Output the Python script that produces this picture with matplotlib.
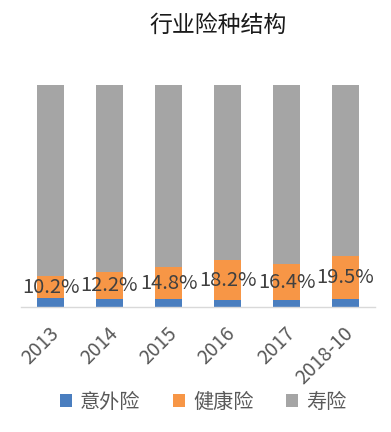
import matplotlib
matplotlib.use("Agg")
import matplotlib.pyplot as plt
import matplotlib.transforms as mtransforms
import numpy as np

plt.rcParams['font.family'] = ['Noto Sans CJK SC', 'DejaVu Sans']

categories = ['2013', '2014', '2015', '2016', '2017', '2018-10']
accident = [3.9, 3.6, 3.4, 3.0, 3.0, 3.4]          # 意外险 (%)
health = [10.2, 12.2, 14.8, 18.2, 16.4, 19.5]      # 健康险 (%)
life = [100 - a - h for a, h in zip(accident, health)]  # 寿险 (%)
series_names = ['意外险', '健康险', '寿险']
colors = ['#4A7EBF', '#F79646', '#A5A5A5']

W, H = 391, 432
fig = plt.figure(figsize=(W / 100, H / 100), dpi=100)
ax = fig.add_axes([21 / W, (H - 307) / H, 354 / W, 222 / H])

x = np.arange(len(categories))
bw = 0.46
b1 = ax.bar(x, accident, bw, color=colors[0], label=series_names[0])
b2 = ax.bar(x, health, bw, bottom=accident, color=colors[1], label=series_names[1])
bottom3 = [a + h for a, h in zip(accident, health)]
b3 = ax.bar(x, life, bw, bottom=bottom3, color=colors[2], label=series_names[2])

for xi, a, h in zip(x, accident, health):
    ax.text(xi, a + h / 2, f'{h:.1f}%', ha='center', va='center',
            fontsize=14.5, color='#404040')

ax.set_xlim(-0.5, len(categories) - 0.5)
ax.set_ylim(0, 100)
ax.set_yticks([])
ax.set_xticks(x)
ax.set_xticklabels(categories, rotation=45, ha='right', va='center',
                   rotation_mode='anchor', fontsize=14, color='#595959')
ax.tick_params(axis='x', length=0, pad=17)
offset = mtransforms.ScaledTranslation(5 / 100, 0, fig.dpi_scale_trans)
for lbl in ax.get_xticklabels():
    lbl.set_transform(lbl.get_transform() + offset)
for s in ['left', 'right', 'top']:
    ax.spines[s].set_visible(False)
ax.spines['bottom'].set_color('#D9D9D9')
ax.spines['bottom'].set_linewidth(1.0)

fig.text(218 / W, 1 - 25 / H, '行业险种结构', ha='center', va='center',
         fontsize=16.5, color='#1A1A1A')

fig.legend(handles=[b1, b2, b3], labels=series_names, loc='center',
           bbox_to_anchor=(203 / W, 1 - 402 / H), ncol=3, frameon=False,
           fontsize=14.5, handlelength=0.6, handleheight=0.6,
           handletextpad=0.4, columnspacing=1.6, labelcolor='#595959')

fig.savefig('out.png', dpi=100)
